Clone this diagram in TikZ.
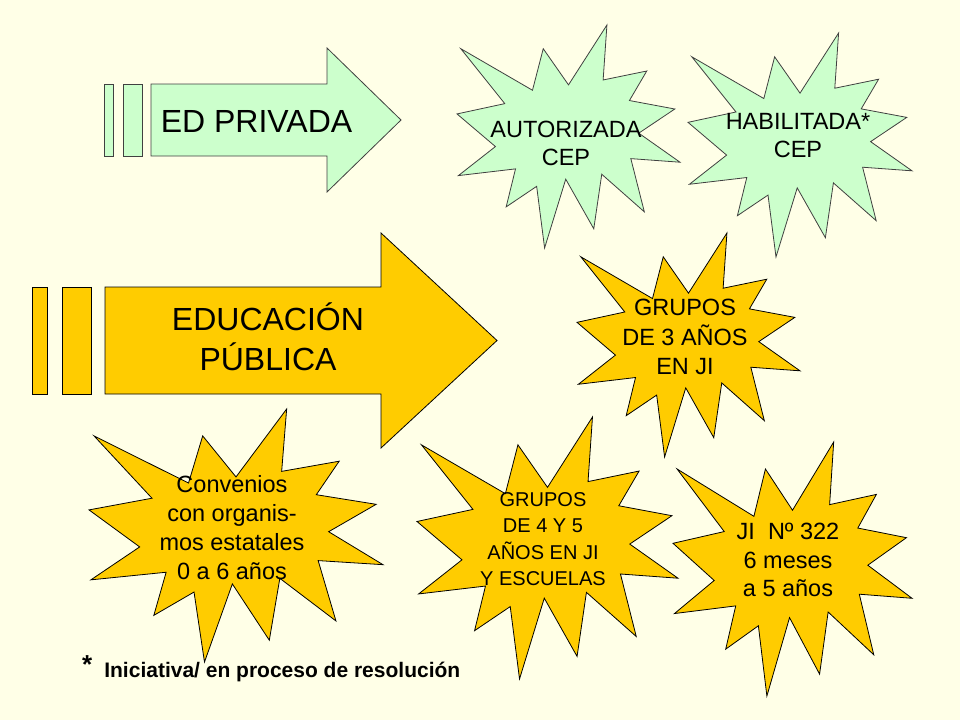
\documentclass[tikz,border=0pt]{standalone}
\usepackage{fontspec}
\setmainfont{Liberation Sans}
\usetikzlibrary{positioning}
\definecolor{slidecream}{RGB}{255,255,231}
\definecolor{privgreen}{RGB}{204,255,204}
\definecolor{pubgold}{RGB}{255,204,0}
\tikzset{
    greenshape/.style={draw=black!75, fill=privgreen, line width=0.8pt, line join=miter},
    goldshape/.style={draw=black, fill=pubgold, line width=0.8pt, line join=miter},
    bigtext/.style={font=\fontsize{32}{40}\selectfont, align=center, inner sep=0pt},
    startext/.style={font=\fontsize{23.5}{#1}\selectfont, align=center, inner sep=0pt},
    startext/.default=28.5,
    smalltext/.style={font=\fontsize{20}{26.3}\selectfont, align=center, inner sep=0pt},
    notetext/.style={font=\bfseries\fontsize{21}{25}\selectfont, inner sep=0pt}
}
% explosion outline, in a 100 x 100 box
\newcommand{\burstpath}{(50,26.85) -- (67.23,0) -- (65.53,24.65) -- (85.09,20.63) -- (77.32,33.87) -- (97.67,37.67) -- (81.51,48.50) -- (100,61.53) -- (77.95,59.92) -- (84.00,83.77) -- (64.91,66.93) -- (61.33,91.38) -- (48.76,69.14) -- (39.28,100) -- (35.72,72.35) -- (22.05,81.56) -- (26.24,64.52) -- (0.63,67.53) -- (17.23,54.51) -- (0,39.88) -- (21.42,35.26) -- (1.71,10.63) -- (33.85,29.26) -- (38.67,10.63) -- cycle}

\begin{document}
\begin{tikzpicture}[x=1pt, y=-1pt]
    % Slide background
    \fill[slidecream] (0,0) rectangle (960,720);
    \useasboundingbox (0,0) rectangle (960,720);

    % Private education arrow
    \draw[greenshape] (104,84) rectangle (113,156);
    \draw[greenshape] (123,84) rectangle (142,156);
    \draw[greenshape] (151,84) -- (327,84) -- (327,48) -- (401,120) -- (327,192) -- (327,156) -- (151,156) -- cycle;
    \node [bigtext] (privada) at (256.5,121) {ED PRIVADA};

    % Public education arrow
    \draw[goldshape] (32,287) rectangle (47,394);
    \draw[goldshape] (62,287) rectangle (91,394);
    \draw[goldshape] (105,287) -- (381,287) -- (381,233) -- (497,340.5) -- (381,448) -- (381,394) -- (105,394) -- cycle;
    \node [bigtext] (publica) at (268,337) {EDUCACIÓN\\PÚBLICA};

    % Explosions
    \foreach \x/\y/\w/\h/\s in {457/25/223/223/greenshape, 688/33/224/224/greenshape,
        577/233/223/224/goldshape, 89/409/294/253/goldshape,
        417/417/261/262/goldshape, 673/442/239/254/goldshape}
        \draw[\s, shift={(\x,\y)}, xscale=\w/100, yscale=\h/100] \burstpath;

    % Explosion labels
    \node [startext=28] (autorizada) at (566,143.6) {AUTORIZADA\\CEP};
    \node [startext=28] (habilitada) at (798,135.6) {HABILITADA*\\CEP};
    \node [startext=29.5] (grupostres) at (685,337) {GRUPOS\\DE 3 AÑOS\\EN JI};
    \node [startext=29] (convenios) at (232,528) {Convenios\\con organis-\\mos estatales\\0 a 6 años};
    \node [smalltext] (grupos) at (543,539) {GRUPOS\\DE 4 Y 5\\AÑOS EN JI\\Y ESCUELAS};
    \node [startext] (jardin) at (788,560) {JI\ \ Nº 322\\6 meses\\a 5 años};

    % Footnote
    \node [notetext, anchor=base west] (nota) at (82,677) {\raisebox{4pt}{\fontsize{26}{26}\selectfont *}\hspace{12pt}Iniciativa/ en proceso de resolución};
\end{tikzpicture}
\end{document}
